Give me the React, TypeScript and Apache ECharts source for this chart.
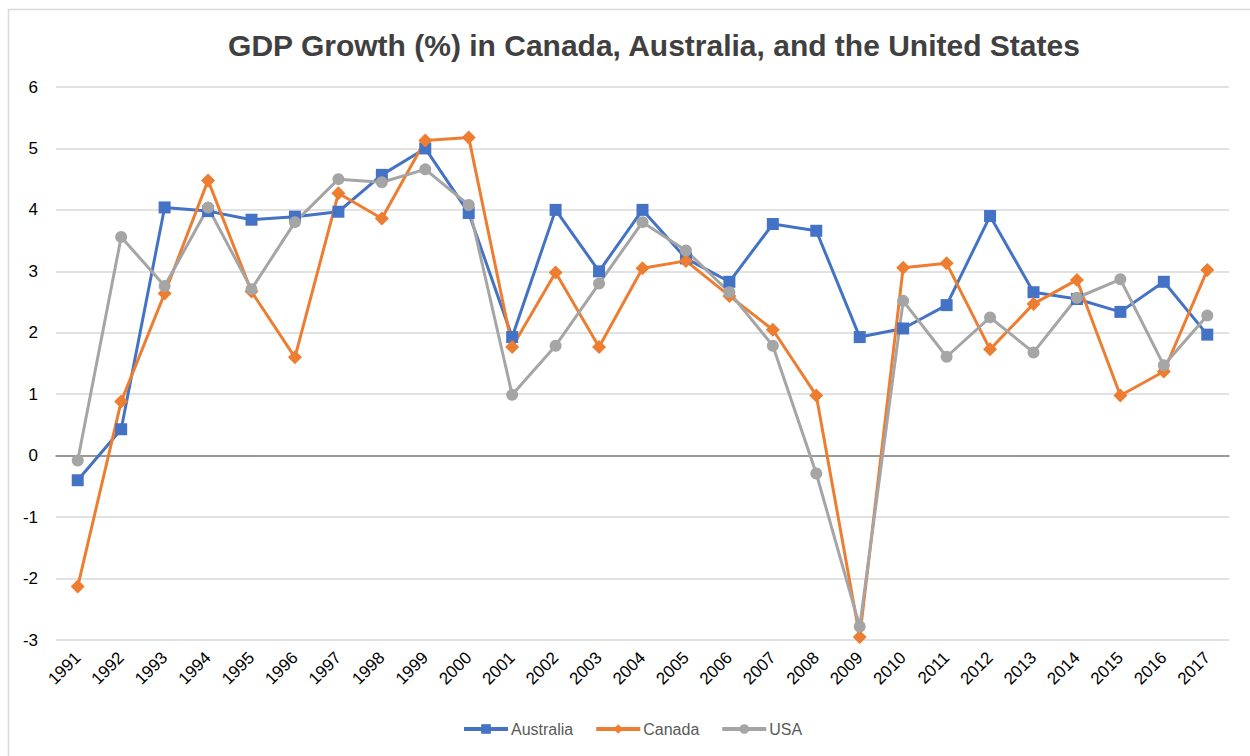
import React, { useEffect, useRef } from "react";
import * as echarts from "echarts";

const years = [
  "1991", "1992", "1993", "1994", "1995", "1996", "1997", "1998", "1999", "2000",
  "2001", "2002", "2003", "2004", "2005", "2006", "2007", "2008", "2009", "2010",
  "2011", "2012", "2013", "2014", "2015", "2016", "2017",
];

const australia = [
  -0.4, 0.43, 4.04, 3.98, 3.84, 3.89, 3.97, 4.57, 5.0, 3.95,
  1.93, 4.0, 3.0, 4.0, 3.21, 2.83, 3.77, 3.66, 1.93, 2.07,
  2.45, 3.9, 2.66, 2.55, 2.34, 2.83, 1.97,
];

const canada = [
  -2.13, 0.88, 2.64, 4.48, 2.67, 1.6, 4.27, 3.86, 5.13, 5.18,
  1.77, 2.98, 1.77, 3.05, 3.17, 2.6, 2.05, 0.98, -2.95, 3.06,
  3.13, 1.73, 2.47, 2.86, 0.98, 1.37, 3.02,
];

const usa = [
  -0.08, 3.56, 2.76, 4.04, 2.71, 3.8, 4.5, 4.45, 4.66, 4.08,
  0.99, 1.79, 2.8, 3.8, 3.34, 2.66, 1.79, -0.29, -2.78, 2.52,
  1.61, 2.25, 1.68, 2.57, 2.87, 1.47, 2.28,
];

const titleText = "GDP Growth (%) in Canada, Australia, and the United States";

export default function App() {
  const ref = useRef<HTMLDivElement>(null);

  useEffect(() => {
    document.body.style.margin = "0";
    if (!ref.current) return;
    const chart = echarts.init(ref.current, undefined, { renderer: "svg" });
    const font = "'Liberation Sans', Arial, Helvetica, sans-serif";
    const mk = (name: string, data: number[], color: string, symbol: string, size: number) => ({
      name,
      type: "line",
      data,
      symbol,
      symbolSize: size,
      lineStyle: { color, width: 3 },
      itemStyle: { color },
      z: 3,
    });
    chart.setOption({
      animation: false,
      backgroundColor: "#ffffff",
      textStyle: { fontFamily: font },
      graphic: [
        {
          type: "rect",
          shape: { x: 8.5, y: 9.5, width: 1260, height: 780 },
          style: { fill: "none", stroke: "#d9d9d9", lineWidth: 1.5 },
          silent: true,
          z: -10,
        },
        {
          type: "text",
          x: 654,
          y: 45,
          style: {
            text: titleText,
            fill: "#404040",
            font: `bold 30px ${font}`,
            textAlign: "center",
            textVerticalAlign: "middle",
          },
        },
      ],
      grid: { left: 56, right: 21, top: 87, bottom: 116, containLabel: false },
      legend: {
        bottom: 14,
        left: 457,
        itemWidth: 44,
        itemHeight: 12,
        itemGap: 21,
        lineStyle: { width: 4 },
        textStyle: { color: "#595959", fontSize: 16, fontFamily: font, padding: [0, 0, 0, -2] },
        data: ["Australia", "Canada", "USA"],
      },
      xAxis: {
        type: "category",
        data: years,
        boundaryGap: true,
        axisLine: { onZero: true, lineStyle: { color: "#808080", width: 1.5 } },
        axisTick: { show: false },
        axisLabel: { rotate: 45, color: "#000000", fontSize: 17, margin: 15, interval: 0 },
        splitLine: { show: false },
        z: 2,
      },
      yAxis: {
        type: "value",
        min: -3,
        max: 6,
        interval: 1,
        axisLine: { show: false },
        axisTick: { show: false },
        axisLabel: { color: "#000000", fontSize: 17, margin: 18 },
        splitLine: { lineStyle: { color: "#d9d9d9", width: 1.5 } },
      },
      series: [
        mk("Australia", australia, "#4472C4", "rect", 12),
        mk("Canada", canada, "#ED7D31", "diamond", 14),
        mk("USA", usa, "#A5A5A5", "circle", 12),
      ],
    });
    return () => chart.dispose();
  }, []);

  return <div ref={ref} style={{ width: 1250, height: 756 }} />;
}
